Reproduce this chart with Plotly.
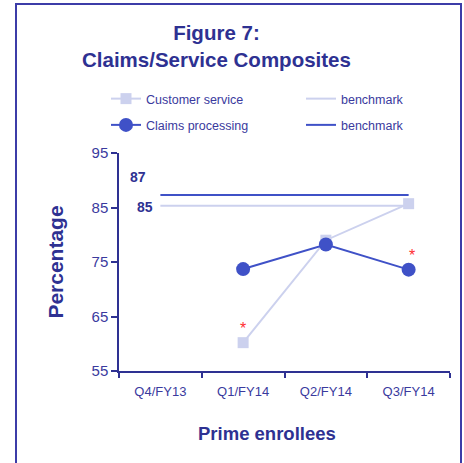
import plotly.graph_objects as go

quarters = ["Q4/FY13", "Q1/FY14", "Q2/FY14", "Q3/FY14"]
cs_quarters = ["Q1/FY14", "Q2/FY14", "Q3/FY14"]
customer_service = [60.2, 79.0, 85.7]
claims_processing = [73.7, 78.2, 73.6]
benchmark_cs = 85.3
benchmark_claims = 87.3
benchmark_labels = ["85", "87"]
y_ticks = [55, 65, 75, 85, 95]

DARK = "#3F51C7"
LIGHT = "#CCD1EE"
NAVY = "#2E3192"
TEXT = "#3A3A9E"
FONT = "Arial, Liberation Sans, sans-serif"

fig = go.Figure()
fig.add_trace(go.Scatter(
    x=[quarters[0], quarters[-1]], y=[benchmark_cs] * 2, name="benchmark", mode="lines",
    line=dict(color=LIGHT, width=2), legend="legend2", legendgroup="c", legendrank=3))
fig.add_trace(go.Scatter(
    x=[quarters[0], quarters[-1]], y=[benchmark_claims] * 2, name="benchmark", mode="lines",
    line=dict(color=DARK, width=2), legend="legend2", legendgroup="d", legendrank=4))
fig.add_trace(go.Scatter(
    x=cs_quarters, y=customer_service, name="Customer service", mode="lines+markers",
    line=dict(color=LIGHT, width=2), marker=dict(symbol="square", size=11, color=LIGHT),
    legend="legend", legendgroup="a", legendrank=1))
fig.add_trace(go.Scatter(
    x=cs_quarters, y=claims_processing, name="Claims processing", mode="lines+markers",
    line=dict(color=DARK, width=2), marker=dict(symbol="circle", size=14, color=DARK),
    legend="legend", legendgroup="b", legendrank=2))

L, R, T, B = 119, 14, 153, 92
PW, PH = 464 - L - R, 463 - T - B

def px(xp):
    return (xp - L) / PW

def py(yp):
    return (463 - B - yp) / PH

legend_common = dict(
    font=dict(family=FONT, size=12.5, color=TEXT), bgcolor="rgba(0,0,0,0)",
    orientation="v", tracegroupgap=7, xanchor="left", yanchor="middle")

annotations = [
    dict(text="<b>Figure 7:<br>Claims/Service Composites</b>", xref="paper", yref="paper",
         x=px(216), y=py(46), xanchor="center", yanchor="middle", showarrow=False,
         font=dict(family=FONT, size=20.5, color=NAVY)),
    dict(text="<b>" + benchmark_labels[1] + "</b>", xref="paper", yref="y", x=px(138),
         y=benchmark_claims, yshift=18, xanchor="center", yanchor="middle", showarrow=False,
         font=dict(family=FONT, size=14, color=NAVY)),
    dict(text="<b>" + benchmark_labels[0] + "</b>", xref="paper", yref="y", x=px(145),
         y=benchmark_cs, yshift=-1, xanchor="center", yanchor="middle", showarrow=False,
         font=dict(family=FONT, size=14, color=NAVY)),
    dict(text="*", xref="x", yref="y", x=cs_quarters[0], y=customer_service[0],
         yshift=14, xshift=0, showarrow=False, font=dict(family=FONT, size=16, color="#FF3030")),
    dict(text="*", xref="x", yref="y", x=cs_quarters[2], y=claims_processing[2],
         yshift=14, xshift=3, showarrow=False, font=dict(family=FONT, size=16, color="#FF3030")),
    dict(text="<b>Prime enrollees</b>", xref="paper", yref="paper", x=px(267), y=py(433),
         xanchor="center", yanchor="middle", showarrow=False,
         font=dict(family=FONT, size=18.5, color=NAVY)),
]

fig.update_layout(
    width=464, height=463, margin=dict(l=L, r=R, t=T, b=B),
    paper_bgcolor="white", plot_bgcolor="white",
    font=dict(family=FONT, color=TEXT),
    showlegend=True,
    legend=dict(x=px(106), y=py(112), **legend_common),
    legend2=dict(x=px(301), y=py(112), **legend_common),
    annotations=annotations,
    xaxis=dict(type="category", categoryorder="array", categoryarray=quarters,
               range=[-0.5, 3.5], tickson="boundaries", ticks="outside", ticklen=5,
               tickcolor=NAVY, tickwidth=1.5, showline=True, linecolor=NAVY, linewidth=1.5,
               showgrid=False, zeroline=False, ticklabelstandoff=8,
               tickfont=dict(family=FONT, size=13, color=TEXT)),
    yaxis=dict(range=[55, 95], tickvals=y_ticks, ticks="outside", ticklen=6,
               tickcolor=NAVY, tickwidth=1.5, showline=True, linecolor=NAVY, linewidth=1.5,
               showgrid=False, zeroline=False,
               tickfont=dict(family=FONT, size=15, color=TEXT),
               title=dict(text="<b>Percentage</b>", standoff=22,
                          font=dict(family=FONT, size=21, color=NAVY))),
    shapes=[dict(type="rect", xref="paper", yref="paper",
                 x0=px(16), x1=px(461), y0=py(480), y1=py(4),
                 line=dict(color="#3C3CA8", width=2), fillcolor="rgba(0,0,0,0)", layer="below")],
)

fig.write_html(
    "out.html",
    config={"displayModeBar": False},
    post_script=("document.body.style.margin='0';"
                 "document.body.style.overflow='hidden';"
                 "document.documentElement.style.overflow='hidden';"),
)
